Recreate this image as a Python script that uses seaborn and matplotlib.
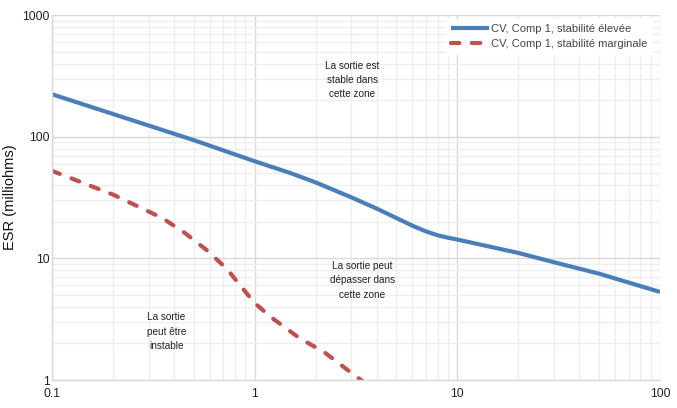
import pandas as pd
import numpy as np
import matplotlib
matplotlib.use("Agg")
import matplotlib.pyplot as plt
import seaborn as sns
from matplotlib.ticker import FixedLocator, LogLocator, NullFormatter

# Data (log-log)
high_freq = [0.1, 0.5, 1, 1.5, 2, 3, 4, 5, 6, 7, 8, 9, 10, 20, 30, 50, 100]
high_esr = [224, 94, 63, 50.4, 42.2, 31.8, 25.7, 21.5, 18.6, 16.7, 15.5, 14.8, 14.3,
            11.1, 9.3, 7.5, 5.3]

marg_freq = [0.1, 0.2, 0.35, 0.45, 0.58, 0.73, 0.87, 1.0, 1.2, 1.67, 2.2, 2.8, 3.4]
marg_esr = [52.5, 33.5, 21.5, 16.3, 11.7, 8.2, 5.7, 4.3, 3.3, 2.2, 1.7, 1.25, 0.98]

label_high = "CV, Comp 1, stabilité élevée"
label_marg = "CV, Comp 1, stabilité marginale"

x_ticks = [0.1, 1, 10, 100]
x_tick_labels = ["0.1", "1", "10", "100"]
y_ticks = [1, 10, 100, 1000]
y_tick_labels = ["1", "10", "100", "1000"]

zone_texts = ["La sortie est\nstable dans\ncette zone",
              "La sortie peut\ndépasser dans\ncette zone",
              "La sortie\npeut être\ninstable"]
zone_x = [3.04, 3.4, 0.367]
zone_y = [293, 6.6, 2.5]

df_high = pd.DataFrame({"freq": high_freq, "esr": high_esr})
df_marg = pd.DataFrame({"freq": marg_freq, "esr": marg_esr})

sns.set_theme(style="white")
plt.rcParams['font.family'] = ['Liberation Sans', 'DejaVu Sans']

blue = "#4a7ebb"
red = "#c0504d"

fig = plt.figure(figsize=(6.77, 4.08), dpi=100)
ax = fig.add_axes([0.0768, 0.0686, 0.898, 0.894])

sns.lineplot(data=df_high, x="freq", y="esr", ax=ax, color=blue, linewidth=3,
             label=label_high, solid_capstyle="butt")
sns.lineplot(data=df_marg, x="freq", y="esr", ax=ax, color=red, linewidth=3,
             label=label_marg)
ax.lines[1].set_dashes((2, 3))
ax.lines[1].set_dash_capstyle("round")

ax.set_xscale("log")
ax.set_yscale("log")
ax.set_xlim(0.1, 100)
ax.set_ylim(1, 1000)

ax.xaxis.set_major_locator(FixedLocator(x_ticks))
ax.set_xticklabels(x_tick_labels)
ax.yaxis.set_major_locator(FixedLocator(y_ticks))
ax.set_yticklabels(y_tick_labels)
ax.xaxis.set_minor_locator(LogLocator(base=10, subs=np.arange(2, 10)))
ax.yaxis.set_minor_locator(LogLocator(base=10, subs=np.arange(2, 10)))
ax.xaxis.set_minor_formatter(NullFormatter())
ax.yaxis.set_minor_formatter(NullFormatter())

ax.grid(True, which="major", color="#d9d9d9", linewidth=1.0)
ax.grid(True, which="minor", color="#eeeeee", linewidth=1.0)
ax.set_axisbelow(True)
ax.tick_params(which="both", length=0, labelsize=8.8, colors="#222222")
ax.tick_params(axis="x", pad=6)
ax.tick_params(axis="y", pad=1.5)
for s in ax.spines.values():
    s.set_color("#d9d9d9")
    s.set_linewidth(1.0)
ax.spines["top"].set_visible(False)
ax.spines["right"].set_visible(False)

ax.set_xlabel("")
ax.set_ylabel("ESR (milliohms)", fontsize=10.5, color="#111111")
ax.yaxis.set_label_coords(-0.058, 0.5)

for t, xx, yy in zip(zone_texts, zone_x, zone_y):
    ax.text(xx, yy, t, ha="center", va="center", fontsize=7.2,
            linespacing=1.55, color="#222222")

leg = ax.legend(loc="upper left", bbox_to_anchor=(0.648, 0.99), fontsize=8.0,
                frameon=True, fancybox=False, handlelength=3.4, handletextpad=0.2,
                borderaxespad=0.0, labelspacing=0.45, borderpad=0.45)
leg.get_frame().set_facecolor("white")
leg.get_frame().set_edgecolor("white")
leg.get_frame().set_alpha(1.0)
for txt in leg.get_texts():
    txt.set_color("#444444")
leg.get_lines()[1].set_dashes((2, 3))

fig.savefig("out.png", dpi=100)
plt.close(fig)
